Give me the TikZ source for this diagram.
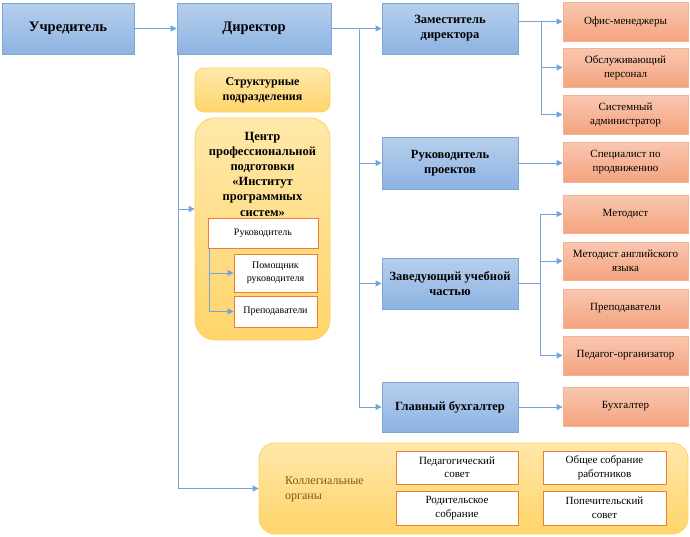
\documentclass[tikz,border=0pt]{standalone}
\usepackage{fontspec}
\setmainfont{Liberation Serif}
\usetikzlibrary{arrows.meta}
\definecolor{blueT}{HTML}{B6CFEC}
\definecolor{blueD}{HTML}{8DB3E2}
\definecolor{blueB}{HTML}{7EA6D8}
\definecolor{orT}{HTML}{F9C7B0}
\definecolor{orD}{HTML}{F4A47F}
\definecolor{orB}{HTML}{F2B293}
\definecolor{yeT}{HTML}{FFE8AA}
\definecolor{yeD}{HTML}{FFD46A}
\definecolor{yeB}{HTML}{FCD35A}
\definecolor{wbB}{HTML}{ED7D31}
\definecolor{lineC}{HTML}{6FA5DC}
\definecolor{kolC}{HTML}{7A5C14}
\tikzset{
  bluebox/.style={draw=blueB, top color=blueT, bottom color=blueD, line width=0.8pt,
    align=center, inner sep=0pt, font=\fontsize{12.5}{15}\selectfont\bfseries},
  bigblue/.style={bluebox, font=\fontsize{14.5}{17}\selectfont\bfseries},
  orbox/.style={draw=orB, top color=orT, bottom color=orD, line width=0.8pt,
    align=center, inner sep=0pt, minimum width=125pt, minimum height=39pt,
    font=\fontsize{11}{14}\selectfont},
  yebox/.style={draw=yeB, top color=yeT, bottom color=yeD, line width=0.8pt,
    rounded corners=9pt, align=center, inner sep=0pt},
  whbox/.style={draw=wbB, fill=white, line width=0.9pt, align=center, inner sep=0pt},
  conn/.style={draw=lineC, line width=0.8pt, -{Triangle[width=6pt,length=6pt]}},
  plain/.style={draw=lineC, line width=0.8pt},
}
\begin{document}
\begin{tikzpicture}[x=1pt,y=-1pt]
\useasboundingbox (0,0) rectangle (690,536);
% left part
\node[bigblue, minimum width=132pt, minimum height=51pt] (uch) at (68,28.5) {Учредитель};
\node[bigblue, minimum width=154pt, minimum height=51pt] (dir) at (254,28.5) {Директор};
\node[yebox, minimum width=135pt, minimum height=44pt, font=\fontsize{12}{15}\selectfont\bfseries] (str) at (262.5,90) {Структурные\\подразделения};
\node[yebox, rounded corners=20pt, minimum width=135pt, minimum height=222pt] (cen) at (262.5,229) {};
\node[align=center, inner sep=0pt, font=\fontsize{12.5}{15.2}\selectfont\bfseries] (centxt) at (262.5,174) {Центр\\профессиональной\\подготовки\\«Институт\\программных\\систем»};
\node[whbox, minimum width=110pt, minimum height=30pt, font=\fontsize{10}{12}\selectfont] (ruk) at (263,233) {Руководитель};
\node[whbox, minimum width=83pt, minimum height=38pt, font=\fontsize{10}{12.5}\selectfont] (pom) at (275.5,273) {Помощник\\руководителя};
\node[whbox, minimum width=83pt, minimum height=31pt, font=\fontsize{10}{12}\selectfont] (pre1) at (275.5,311.5) {Преподаватели};
% blue column
\node[bluebox, minimum width=136pt, minimum height=51pt] (zam) at (450,28.5) {Заместитель\\директора};
\node[bluebox, minimum width=136pt, minimum height=52pt] (rp) at (450,163) {Руководитель\\проектов};
\node[bluebox, minimum width=136pt, minimum height=51pt] (zav) at (450,283.5) {Заведующий учебной\\частью};
\node[bluebox, minimum width=136pt, minimum height=50pt] (gb) at (450,407) {Главный бухгалтер};
% orange column
\node[orbox] (om) at (625.5,21.5) {Офис-менеджеры};
\node[orbox] (op) at (625.5,67.5) {Обслуживающий\\персонал};
\node[orbox] (sa) at (625.5,114.5) {Системный\\администратор};
\node[orbox, minimum height=40pt] (sp) at (625.5,162) {Специалист по\\продвижению};
\node[orbox, minimum height=38pt] (met) at (625.5,214) {Методист};
\node[orbox, minimum height=38pt] (meta) at (625.5,261) {Методист английского\\языка};
\node[orbox] (pre2) at (625.5,308.5) {Преподаватели};
\node[orbox] (ped) at (625.5,355.5) {Педагог-организатор};
\node[orbox] (buh) at (625.5,406.5) {Бухгалтер};
% collegial
\node[yebox, rounded corners=16pt, minimum width=429pt, minimum height=91pt] (kol) at (473.5,488.5) {};
\node[anchor=west, align=left, inner sep=0pt, text=kolC, font=\fontsize{12}{15}\selectfont] (koltxt) at (285,489) {Коллегиальные\\органы};
\node[whbox, minimum width=122pt, minimum height=33pt, font=\fontsize{11}{13.5}\selectfont] (ps) at (457,467.5) {Педагогический\\совет};
\node[whbox, minimum width=123pt, minimum height=33pt, font=\fontsize{11}{13.5}\selectfont] (os) at (604.5,467.5) {Общее собрание\\работников};
\node[whbox, minimum width=122pt, minimum height=34pt, font=\fontsize{11}{13.5}\selectfont] (rs) at (457,508) {Родительское\\собрание};
\node[whbox, minimum width=123pt, minimum height=34pt, font=\fontsize{11}{13.5}\selectfont] (pc) at (604.5,508) {Попечительский\\совет};
% connectors
\coordinate (jr) at (359,28.5);
\coordinate (jl) at (178,54);
\coordinate (jz) at (541,21.5);
\coordinate (jv) at (540,283.5);
\draw[conn] (uch.east) -- (dir.west);
\draw[conn] (dir.east) -- (zam.west);
\draw[plain] (jr) -- (jr |- gb.west);
\draw[conn] (jr |- rp.west) -- (rp.west);
\draw[conn] (jr |- zav.west) -- (zav.west);
\draw[conn] (jr |- gb.west) -- (gb.west);
\draw[plain] (jl) -- (jl |- kol.west);
\draw[conn] (jl |- kol.west) -- (kol.west);
\draw[conn] (jl |- 0,209) -- (cen.west |- 0,209);
\draw[conn] (zam.east |- om.west) -- (om.west);
\draw[conn] (jz) |- (op.west);
\draw[conn] (jz) |- (sa.west);
\draw[conn] (rp.east) -- (rp.east -| sp.west);
\draw[plain] (zav.east) -- (jv);
\draw[conn] (jv |- met.west) -- (met.west);
\draw[plain] (jv |- met.west) -- (jv |- ped.west);
\draw[conn] (jv |- meta.west) -- (meta.west);
\draw[conn] (jv |- ped.west) -- (ped.west);
\draw[conn] (gb.east) -- (gb.east -| buh.west);
\draw[conn] ([xshift=1.5pt]ruk.south west) |- (pom.west);
\draw[conn] ([xshift=1.5pt]ruk.south west) |- (pre1.west);
\end{tikzpicture}
\end{document}
